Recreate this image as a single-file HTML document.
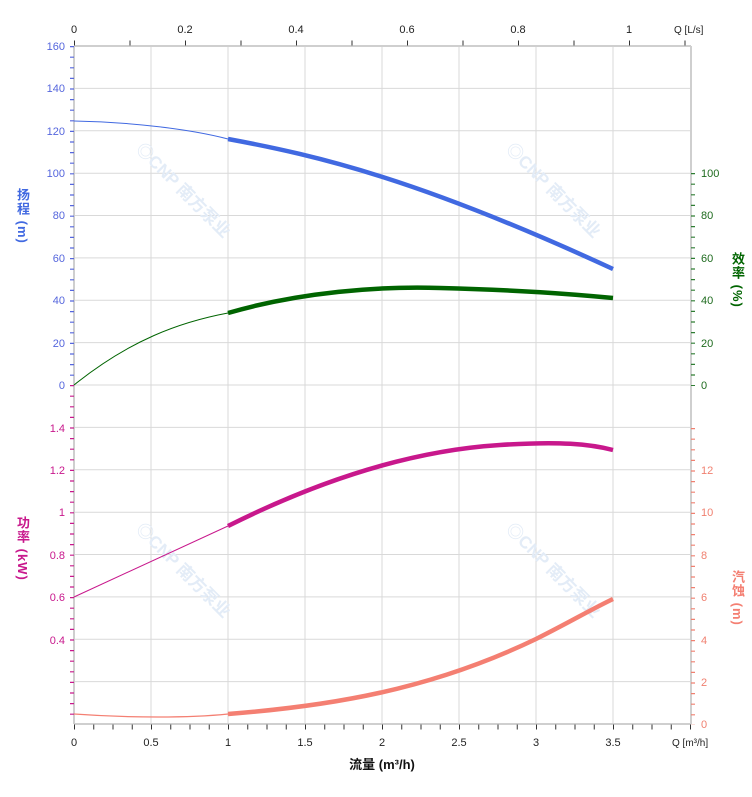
<!DOCTYPE html>
<html><head><meta charset="utf-8"><style>
body{margin:0;background:#fff;width:752px;height:797px;overflow:hidden;font-family:"Liberation Sans","Noto Sans CJK SC",sans-serif}
.vt{position:absolute;writing-mode:vertical-rl;font-size:13px;font-weight:bold;letter-spacing:1px}
</style></head><body>
<svg width="752" height="797" style="position:absolute;left:0;top:0" font-family="Liberation Sans, Noto Sans CJK SC, sans-serif" font-size="11">
<g stroke="#d9d9d9" stroke-width="1">
<line x1="151" y1="46" x2="151" y2="724"/><line x1="228" y1="46" x2="228" y2="724"/><line x1="305" y1="46" x2="305" y2="724"/><line x1="382" y1="46" x2="382" y2="724"/><line x1="459" y1="46" x2="459" y2="724"/><line x1="536" y1="46" x2="536" y2="724"/><line x1="613" y1="46" x2="613" y2="724"/>
<line x1="74" y1="88.4" x2="691" y2="88.4"/><line x1="74" y1="130.8" x2="691" y2="130.8"/><line x1="74" y1="173.2" x2="691" y2="173.2"/><line x1="74" y1="215.5" x2="691" y2="215.5"/><line x1="74" y1="257.9" x2="691" y2="257.9"/><line x1="74" y1="300.3" x2="691" y2="300.3"/><line x1="74" y1="342.6" x2="691" y2="342.6"/><line x1="74" y1="385" x2="691" y2="385"/><line x1="74" y1="427.4" x2="691" y2="427.4"/><line x1="74" y1="469.8" x2="691" y2="469.8"/><line x1="74" y1="512.2" x2="691" y2="512.2"/><line x1="74" y1="554.5" x2="691" y2="554.5"/><line x1="74" y1="596.9" x2="691" y2="596.9"/><line x1="74" y1="639.3" x2="691" y2="639.3"/><line x1="74" y1="681.6" x2="691" y2="681.6"/>
</g>
<g stroke="#cfcfcf" stroke-width="2"><line x1="74" y1="46" x2="691" y2="46"/><line x1="74" y1="724" x2="691" y2="724"/><line x1="74" y1="46" x2="74" y2="724"/><line x1="691" y1="46" x2="691" y2="724"/></g>
<!-- watermarks -->
<g fill="#e3ecf7" font-size="17" font-weight="bold">
<text transform="translate(135,150) rotate(45)">◎CNP 南方泵业</text>
<text transform="translate(505,150) rotate(45)">◎CNP 南方泵业</text>
<text transform="translate(135,530) rotate(45)">◎CNP 南方泵业</text>
<text transform="translate(505,530) rotate(45)">◎CNP 南方泵业</text>
</g>
<!-- left ticks -->
<line x1="72" y1="46" x2="72" y2="385" stroke="#5566dd" stroke-width="4" stroke-dasharray="1.2 9.4"/>
<line x1="72" y1="385" x2="72" y2="724" stroke="#c8188c" stroke-width="4" stroke-dasharray="1.2 9.4"/>
<line x1="693" y1="173" x2="693" y2="386" stroke="#2e7d32" stroke-width="4" stroke-dasharray="1.2 9.4"/>
<line x1="693" y1="428" x2="693" y2="725" stroke="#f08070" stroke-width="4" stroke-dasharray="1.2 9.4"/>
<line x1="74" y1="724" x2="691" y2="724" stroke="#333" stroke-width="5" stroke-dasharray="1 18.25" transform="translate(0,3)"/>
<line x1="74" y1="46" x2="691" y2="46" stroke="#333" stroke-width="5" stroke-dasharray="1 54.5" transform="translate(0,-3)"/>
<g fill="#5566dd" text-anchor="end">
<text x="65" y="50">160</text><text x="65" y="92">140</text><text x="65" y="135">120</text><text x="65" y="177">100</text><text x="65" y="219">80</text><text x="65" y="262">60</text><text x="65" y="304">40</text><text x="65" y="347">20</text><text x="65" y="389">0</text></g>
<g fill="#c8188c" text-anchor="end">
<text x="65" y="432">1.4</text><text x="65" y="474">1.2</text><text x="65" y="516">1</text><text x="65" y="559">0.8</text><text x="65" y="601">0.6</text><text x="65" y="644">0.4</text></g>
<g fill="#1e6b1e"><text x="701" y="177">100</text><text x="701" y="219">80</text><text x="701" y="262">60</text><text x="701" y="304">40</text><text x="701" y="347">20</text><text x="701" y="389">0</text></g>
<g fill="#f08070"><text x="701" y="474">12</text><text x="701" y="516">10</text><text x="701" y="559">8</text><text x="701" y="601">6</text><text x="701" y="644">4</text><text x="701" y="686">2</text><text x="701" y="728">0</text></g>
<g fill="#222" text-anchor="middle">
<text x="74" y="746">0</text><text x="151" y="746">0.5</text><text x="228" y="746">1</text><text x="305" y="746">1.5</text><text x="382" y="746">2</text><text x="459" y="746">2.5</text><text x="536" y="746">3</text><text x="613" y="746">3.5</text>
<text x="74" y="33">0</text><text x="185" y="33">0.2</text><text x="296" y="33">0.4</text><text x="407" y="33">0.6</text><text x="518" y="33">0.8</text><text x="629" y="33">1</text>
</g>
<text x="672" y="746" font-size="10" fill="#222">Q [m³/h]</text>
<text x="674" y="33" font-size="10" fill="#222">Q [L/s]</text>
<text x="382" y="769" text-anchor="middle" font-size="13" font-weight="bold" fill="#111">流量 (m³/h)</text>
<!-- curves -->
<g fill="none" stroke-linecap="butt">
<path d="M74,121 C130,122 190,129 228,139" stroke="#4169e1" stroke-width="1"/>
<path d="M228,139 C320,156 420,180 613,269" stroke="#4169e1" stroke-width="4.5"/>
<path d="M74,385 C130,340 180,322 228,313" stroke="#006400" stroke-width="1"/>
<path d="M228,313 C300,292 380,286 440,288 C520,290 570,294 613,298" stroke="#006400" stroke-width="4.5"/>
<path d="M74,597 L228,526" stroke="#c8188c" stroke-width="1"/>
<path d="M228,526 C330,475 420,450 500,445 C560,441 590,444 613,450" stroke="#c8188c" stroke-width="4.5"/>
<path d="M74,714 C130,718 190,718 228,714" stroke="#f47f72" stroke-width="1.2"/>
<path d="M228,714 C330,706 430,690 536,639 C570,622 590,610 613,599" stroke="#f47f72" stroke-width="4.5"/>
</g>
</svg>
<div class="vt" style="left:13px;top:188px;color:#4169e1">扬程 (m)</div>
<div class="vt" style="left:13px;top:516px;color:#c8188c">功率 (kW)</div>
<div class="vt" style="left:728px;top:252px;color:#006400">效率 (%)</div>
<div class="vt" style="left:728px;top:570px;color:#f47f72">汽蚀 (m)</div>
</body></html>
